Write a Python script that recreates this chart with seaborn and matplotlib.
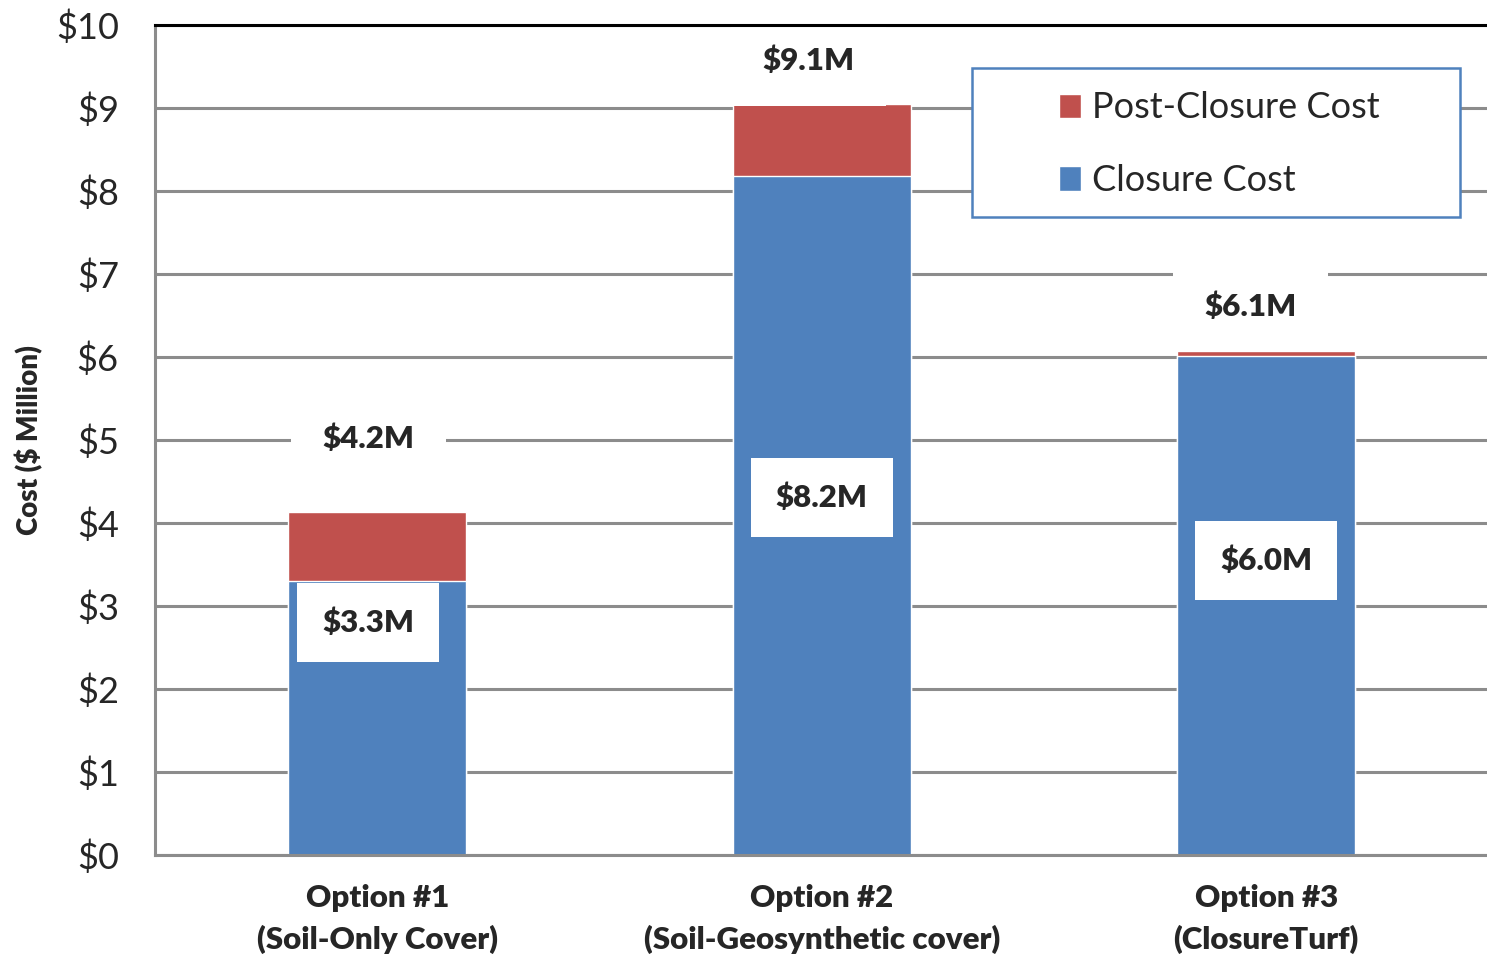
import matplotlib
matplotlib.use("Agg")
import matplotlib.pyplot as plt
import matplotlib.patches as mpatches
import seaborn as sns
import pandas as pd
import numpy as np

# values ($ million)
options = ["Option #1\n(Soil-Only Cover)",
           "Option #2\n(Soil-Geosynthetic cover)",
           "Option #3\n(ClosureTurf)"]
closure_cost = [3.30, 8.18, 6.01]
post_closure_cost = [0.83, 0.87, 0.06]
total_labels = ["$4.2M", "$9.1M", "$6.1M"]
closure_labels = ["$3.3M", "$8.2M", "$6.0M"]

df = pd.DataFrame({"option": options,
                   "closure": closure_cost,
                   "post": post_closure_cost})
df["total"] = df["closure"] + df["post"]

BLUE = "#4F81BD"
RED = "#C0504D"
GRID = "#8C8C8C"

sns.set_style("white")
plt.rcParams["font.family"] = ["Lato", "DejaVu Sans"]

fig = plt.figure(figsize=(14.87, 9.59), dpi=100)
ax = fig.add_axes([0.1042, 0.1084, 0.8968, 0.8655])

sns.barplot(data=df, x="option", y="total", color=RED, width=0.4,
            saturation=1, label="Post-Closure Cost", ax=ax, zorder=2)
sns.barplot(data=df, x="option", y="closure", color=BLUE, width=0.4,
            saturation=1, label="Closure Cost", ax=ax, zorder=2)

ax.set_xlim(-0.5, 2.5)
ax.set_ylim(0, 10)
ax.set_yticks(np.arange(0, 11, 1))
ax.set_yticklabels([f"${v}" for v in range(11)], fontsize=26)
ax.set_yticks(np.arange(0, 10.01, 0.2), minor=True)
ax.yaxis.grid(True, which="major", color=GRID, linewidth=2.2, zorder=0)
ax.set_axisbelow(True)

ax.tick_params(axis="y", which="major", direction="inout", length=14,
               width=2, color=GRID, pad=19)
ax.tick_params(axis="y", which="minor", direction="in", length=8,
               width=2, color=GRID)
ax.set_xticks([0, 1, 2])
ax.set_xticklabels(options, fontsize=22.5, fontweight="heavy", linespacing=1.52)
ax.set_xticks([-0.5, 0.5, 1.5, 2.5], minor=True)
ax.tick_params(axis="x", which="major", length=0, pad=21)
ax.tick_params(axis="x", which="minor", direction="out", length=7,
               width=2, color=GRID)

for side in ["left", "bottom"]:
    ax.spines[side].set_color(GRID)
    ax.spines[side].set_linewidth(2.2)
ax.spines["right"].set_visible(False)
ax.spines["top"].set_color("black")
ax.spines["top"].set_linewidth(2.2)
ax.spines["top"].set_zorder(6)

ax.set_xlabel("")
ax.set_ylabel("Cost ($ Million)", fontsize=20, fontweight="heavy")
ax.yaxis.set_label_coords(-0.084, 0.5)

# total labels above the bars
total_pos = [(-0.02, 5.02), (0.97, 9.57), (1.965, 6.61)]
for (x, y), txt in zip(total_pos, total_labels):
    ax.text(x, y, txt, ha="center", va="center", fontsize=22.5,
            fontweight="heavy", zorder=3,
            bbox=dict(boxstyle="square,pad=1.0", fc="white", ec="none"))

# closure labels inside the bars
closure_pos = [(-0.02, 2.80), (1.0, 4.31), (2.0, 3.55)]
for (x, y), txt in zip(closure_pos, closure_labels):
    ax.text(x, y, txt, ha="center", va="center", fontsize=22.5,
            fontweight="heavy", zorder=3,
            bbox=dict(boxstyle="square,pad=0.8", fc="white", ec="none"))

# legend frame drawn by hand so it can sit wider than its entries
frame = mpatches.Rectangle((0.6127, 0.7687), 0.3659, 0.1795,
                           transform=ax.transAxes, fc="white", ec=BLUE,
                           lw=1.8, zorder=4)
ax.add_patch(frame)
handles, labels = ax.get_legend_handles_labels()
leg = ax.legend(handles, labels, loc="upper left",
                bbox_to_anchor=(0.678, 0.920), frameon=False, fontsize=26,
                handlelength=0.6, handleheight=0.65, handletextpad=0.3,
                labelspacing=1.1, borderpad=0, borderaxespad=0)
leg.set_zorder(5)

fig.savefig("out.png", dpi=100)
